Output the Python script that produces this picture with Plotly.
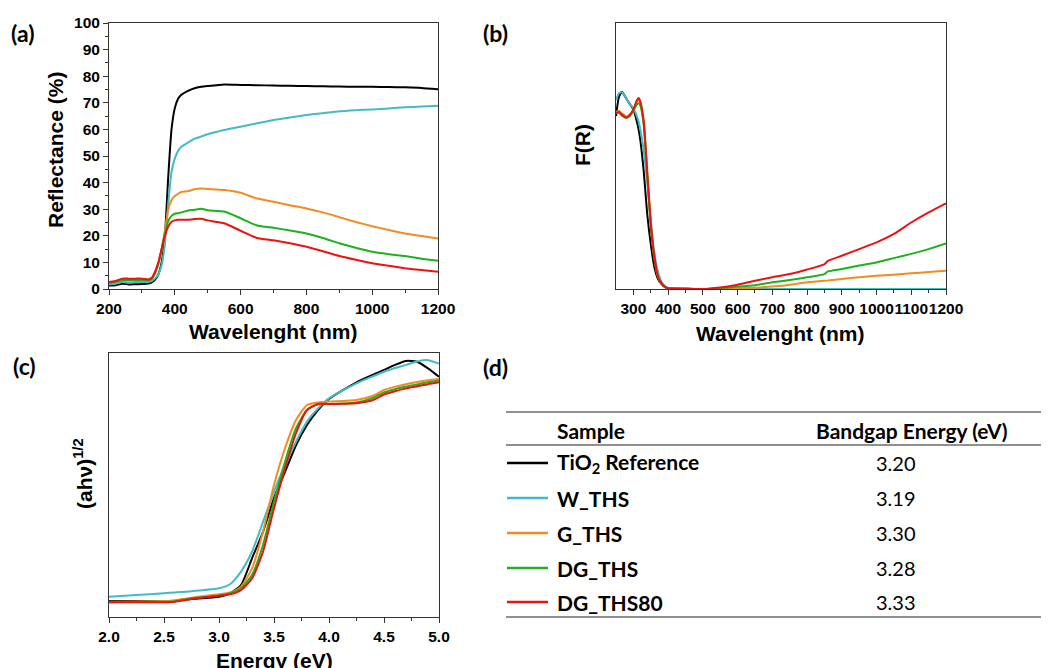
import plotly.graph_objects as go

# ---------------- data ----------------
samples = ["TiO<sub>2</sub> Reference", "W_THS", "G_THS", "DG_THS", "DG_THS80"]
bandgaps = ["3.20", "3.19", "3.30", "3.28", "3.33"]
colors = ["#000000", "#41bcc4", "#f58a1f", "#1db21d", "#ee1111"]

# (a) Reflectance (%) vs wavelength (nm)
wl_a = [200, 220, 240, 260, 280, 300, 320, 330, 340, 350, 360, 370, 380, 390, 400, 410, 420,
        440, 460, 480, 500, 550, 600, 650, 700, 750, 800, 850, 900, 950, 1000, 1050, 1100, 1150, 1200]
refl_tio2 = [1.3, 1.4, 2.0, 1.7, 1.8, 1.9, 2.1, 2.5, 3.5, 5.5, 10, 20, 42, 60, 68, 71.5, 73,
             74.5, 75.5, 76, 76.3, 76.9, 76.7, 76.6, 76.5, 76.4, 76.3, 76.2, 76.1, 76.0, 76.0, 75.9, 75.8, 75.6, 75.1]
refl_wths = [1.8, 2.0, 2.6, 2.5, 2.6, 2.6, 2.7, 3.0, 4.0, 5.5, 9, 17, 32, 44, 49, 52, 53.5,
             55, 56.5, 57.3, 58.2, 59.8, 61, 62.3, 63.5, 64.5, 65.4, 66.1, 66.8, 67.2, 67.5, 67.9, 68.3, 68.6, 68.9]
refl_gths = [2.6, 2.9, 3.6, 3.7, 3.7, 3.7, 3.5, 4, 6, 9.5, 15, 22, 30, 33.5, 35, 35.8, 36.5,
             36.8, 37.5, 37.8, 37.6, 37.2, 36.2, 34, 32.8, 31.5, 30.3, 28.8, 27, 25.2, 23.6, 22.2, 20.9, 19.9, 19.0]
refl_dgths = [2.3, 2.7, 3.3, 3.4, 3.4, 3.4, 3.3, 3.8, 6, 9.5, 15, 21, 25.5, 27.5, 28.3, 28.5, 28.8,
              29.5, 29.8, 30.2, 29.6, 29.1, 26.6, 23.9, 23.0, 22.0, 20.9, 19.2, 17.2, 15.5, 14.0, 13.1, 12.4, 11.4, 10.6]
refl_dgths80 = [2.6, 3.0, 3.9, 3.9, 3.9, 3.9, 3.6, 4.2, 6.5, 10, 15, 20, 23.5, 25.3, 25.8, 26, 26,
                26, 26.3, 26.4, 25.8, 24.7, 21.9, 19.2, 18.3, 17.2, 15.9, 14.2, 12.4, 11.0, 9.7, 8.7, 7.8, 7.1, 6.5]

# (b) F(R) (arb. units) vs wavelength (nm)
wl_b = [250, 258, 267, 280, 290, 300, 310, 315, 320, 330, 340, 350, 360, 370, 380, 390, 400,
        450, 500, 550, 600, 650, 700, 750, 800, 850, 860, 900, 950, 1000, 1050, 1100, 1150, 1200]
fr_tio2 = [65, 72, 74.2, 71.5, 69.5, 67.5, 63, 60, 56, 44, 28, 17, 8.5, 4, 2, 0.8, 0.3,
           0.1, 0, 0, 0, 0, 0, 0, 0, 0, 0, 0, 0, 0, 0, 0, 0, 0]
fr_wths = [71, 73.5, 74, 71.5, 69.5, 68, 65, 63, 60, 52, 40, 26, 14, 7, 3, 1.2, 0.4,
           0.1, 0, 0, 0, 0, 0, 0, 0, 0, 0, 0, 0, 0, 0, 0, 0, 0]
fr_gths = [66.5, 67, 66, 64.8, 65.5, 67.5, 70.5, 71, 70, 62, 43, 24, 12, 5, 2.2, 0.9, 0.3,
           0.1, 0, 0, 0.2, 0.5, 0.9, 1.6, 2.5, 3.1, 3.2, 3.8, 4.4, 5.0, 5.4, 5.9, 6.4, 6.9]
fr_dgths = [66, 66.3, 65.2, 64.3, 65, 67, 69.3, 69.8, 69, 61.5, 42.5, 24, 12, 5, 2.2, 0.9, 0.3,
            0.1, 0, 0.3, 0.8, 1.4, 2.5, 3.4, 4.4, 5.6, 6.6, 7.5, 8.8, 10.0, 11.6, 13.2, 15.0, 17.1]
fr_dgths80 = [66, 66.5, 65.5, 64.5, 65.5, 67.5, 71, 71.8, 70.5, 63, 44, 25, 12.5, 5.2, 2.3, 0.9, 0.3,
              0.1, 0, 0.6, 1.6, 3.1, 4.4, 5.6, 7.3, 9.3, 10.6, 12.5, 15.0, 17.5, 20.7, 25.0, 28.8, 32.2]

# (c) (ahv)^1/2 (arb. units) vs energy (eV)
en_c = [2.0, 2.25, 2.5, 2.6, 2.75, 3.0, 3.1, 3.2, 3.3, 3.4, 3.5, 3.6, 3.7, 3.8, 3.9, 4.0,
        4.25, 4.4, 4.5, 4.6, 4.7, 4.8, 4.9, 5.0]
tauc_tio2 = [6.1, 6.1, 6.1, 6.2, 6.8, 7.7, 9.0, 12.1, 22.2, 32.3, 45, 55, 65, 72.7, 78.4, 82.6,
             88.9, 91.8, 93.6, 95.5, 97, 96.7, 94.2, 91]
tauc_wths = [7.7, 8.3, 9.0, 9.3, 9.8, 10.9, 12.4, 17.2, 24.7, 36, 47.5, 57.6, 66.4, 74, 79, 82.8,
             88.5, 91.2, 92.9, 94.3, 95.5, 96.8, 97.3, 96]
tauc_gths = [5.8, 5.9, 6.1, 6.3, 7.3, 8.6, 9.3, 11.5, 18.4, 32.3, 50, 63.9, 74.6, 80.3, 81.3, 81.6,
             82.2, 83.8, 86, 87.2, 88.2, 89, 89.7, 90.2]
tauc_dgths = [5.6, 5.7, 5.8, 6.0, 7.1, 8.1, 9.0, 10.9, 15.9, 27.3, 43.7, 58.8, 71.5, 78.4, 80.6, 80.7,
              81.3, 83, 85.1, 86.3, 87.3, 88.1, 88.9, 89.6]
tauc_dgths80 = [5.6, 5.6, 5.6, 5.8, 6.8, 8.1, 8.6, 10.2, 14.6, 24.7, 41.2, 56.3, 69.6, 78.4, 80.7, 80.7,
                81, 82.2, 84.3, 85.5, 86.6, 87.4, 88.2, 88.9]

refl_series = [refl_tio2, refl_wths, refl_gths, refl_dgths, refl_dgths80]
fr_series = [fr_tio2, fr_wths, fr_gths, fr_dgths, fr_dgths80]
tauc_series = [tauc_tio2, tauc_wths, tauc_gths, tauc_dgths, tauc_dgths80]

# ---------------- figure ----------------
# the page body has an 8px margin, so the figure starts at (8, 8) in the window
OFF = 8
W, H = 1049 - OFF, 668 - OFF
def px(x):
    return (x - OFF) / W
def py(y):
    return 1 - (y - OFF) / H

fig = go.Figure()
for i in range(5):
    fig.add_trace(go.Scatter(x=wl_a, y=refl_series[i], mode="lines", xaxis="x", yaxis="y",
                             line=dict(color=colors[i], width=2, shape="spline", smoothing=0.5),
                             showlegend=False))
for i in range(5):
    fig.add_trace(go.Scatter(x=wl_b, y=fr_series[i], mode="lines", xaxis="x2", yaxis="y2",
                             line=dict(color=colors[i], width=2, shape="spline", smoothing=0.5),
                             showlegend=False))
for i in range(5):
    fig.add_trace(go.Scatter(x=en_c, y=tauc_series[i], mode="lines", xaxis="x3", yaxis="y3",
                             line=dict(color=colors[i], width=2, shape="spline", smoothing=0.6),
                             showlegend=False))

tickfont = dict(family="Liberation Sans, Arial", size=15.5, color="#000", weight="bold")
axcommon = dict(showgrid=False, zeroline=False, showline=True, linecolor="#333", linewidth=1,
                mirror=True, tickfont=tickfont, ticks="outside", ticklen=5, tickcolor="#333",
                automargin=False, tickangle=0)
plain_y = dict(showticklabels=False, showgrid=False, zeroline=False, showline=True, linecolor="#333",
               linewidth=1, mirror=True, ticks="", automargin=False)

fig.update_layout(
    width=W, height=H, margin=dict(l=0, r=0, t=0, b=0, autoexpand=False),
    paper_bgcolor="white", plot_bgcolor="white",
    xaxis=dict(domain=[px(109), px(438)], anchor="y", range=[200, 1200], tickvals=[200, 400, 600, 800, 1000, 1200],
               minor=dict(ticks="outside", tickvals=[300, 500, 700, 900, 1100], ticklen=3, tickcolor="#333"), **axcommon),
    yaxis=dict(domain=[py(289), py(23)], anchor="x", range=[0, 100], dtick=10,
               minor=dict(ticks="outside", dtick=5, ticklen=3, tickcolor="#333"), **axcommon),
    xaxis2=dict(domain=[px(616), px(946)], anchor="y2", range=[250, 1200],
                tickvals=[300, 400, 500, 600, 700, 800, 900, 1000, 1100, 1200],
                minor=dict(ticks="outside", tickvals=[350, 450, 550, 650, 750, 850, 950, 1050, 1150], ticklen=3, tickcolor="#333"),
                **axcommon),
    yaxis2=dict(domain=[py(289), py(23)], anchor="x2", range=[0, 100], **plain_y),
    xaxis3=dict(domain=[px(109), px(439)], anchor="y3", range=[2.0, 5.0],
                tickvals=[2.0, 2.5, 3.0, 3.5, 4.0, 4.5, 5.0], tickformat=".1f",
                minor=dict(ticks="outside", tickvals=[2.25, 2.75, 3.25, 3.75, 4.25, 4.75], ticklen=3, tickcolor="#333"),
                **axcommon),
    yaxis3=dict(domain=[py(617), py(353)], anchor="x3", range=[0, 100], **plain_y),
)

annotations = []
def ann(text, x, y, size=21, family="Liberation Sans, Arial", angle=0, xanchor="center", yanchor="middle", color="#000"):
    annotations.append(dict(text=text, x=px(x), y=py(y), xref="paper", yref="paper", showarrow=False,
                            xanchor=xanchor, yanchor=yanchor, textangle=angle,
                            font=dict(family=family, size=size, color=color)))

# panel labels
for lab, x, y in [("(a)", 9, 33), ("(b)", 481, 33), ("(c)", 11, 366), ("(d)", 481, 367)]:
    ann("<b>" + lab + "</b>", x, y, size=23, family="Lato", xanchor="left")

# axis titles
ann("<b>Reflectance (%)</b>", 56, 150, angle=-90)
ann("<b>Wavelenght (nm)</b>", 273, 331)
ann("<b>F(R)</b>", 583, 145, angle=-90)
ann("<b>Wavelenght (nm)</b>", 780, 333)
ann("<b>(ahν)<sup>1/2</sup></b>", 83, 474, angle=-90)
ann("<b>Energy (eV)</b>", 274, 660)

# table (d)
tfont = "Lato"
ann("<b>Sample</b>", 591, 430, size=21, family=tfont)
ann("<b>Bandgap Energy (eV)</b>", 911, 430, size=21, family=tfont)
row_y = [463, 498, 533, 568, 602]
shapes = []
for i, (s, bg) in enumerate(zip(samples, bandgaps)):
    ann("<b>" + s + "</b>", 555, row_y[i], size=21, family=tfont, xanchor="left")
    ann(bg, 896, row_y[i], size=20, family=tfont)
    shapes.append(dict(type="line", xref="paper", yref="paper", x0=px(507), x1=px(548),
                       y0=py(row_y[i]), y1=py(row_y[i]), line=dict(color=colors[i], width=2.5)))
for yy in [412, 445, 617]:
    shapes.append(dict(type="line", xref="paper", yref="paper", x0=px(506), x1=px(1049),
                       y0=py(yy), y1=py(yy), line=dict(color="#222", width=1.2)))

fig.update_layout(annotations=annotations, shapes=shapes)
fig.write_html("out.html")
